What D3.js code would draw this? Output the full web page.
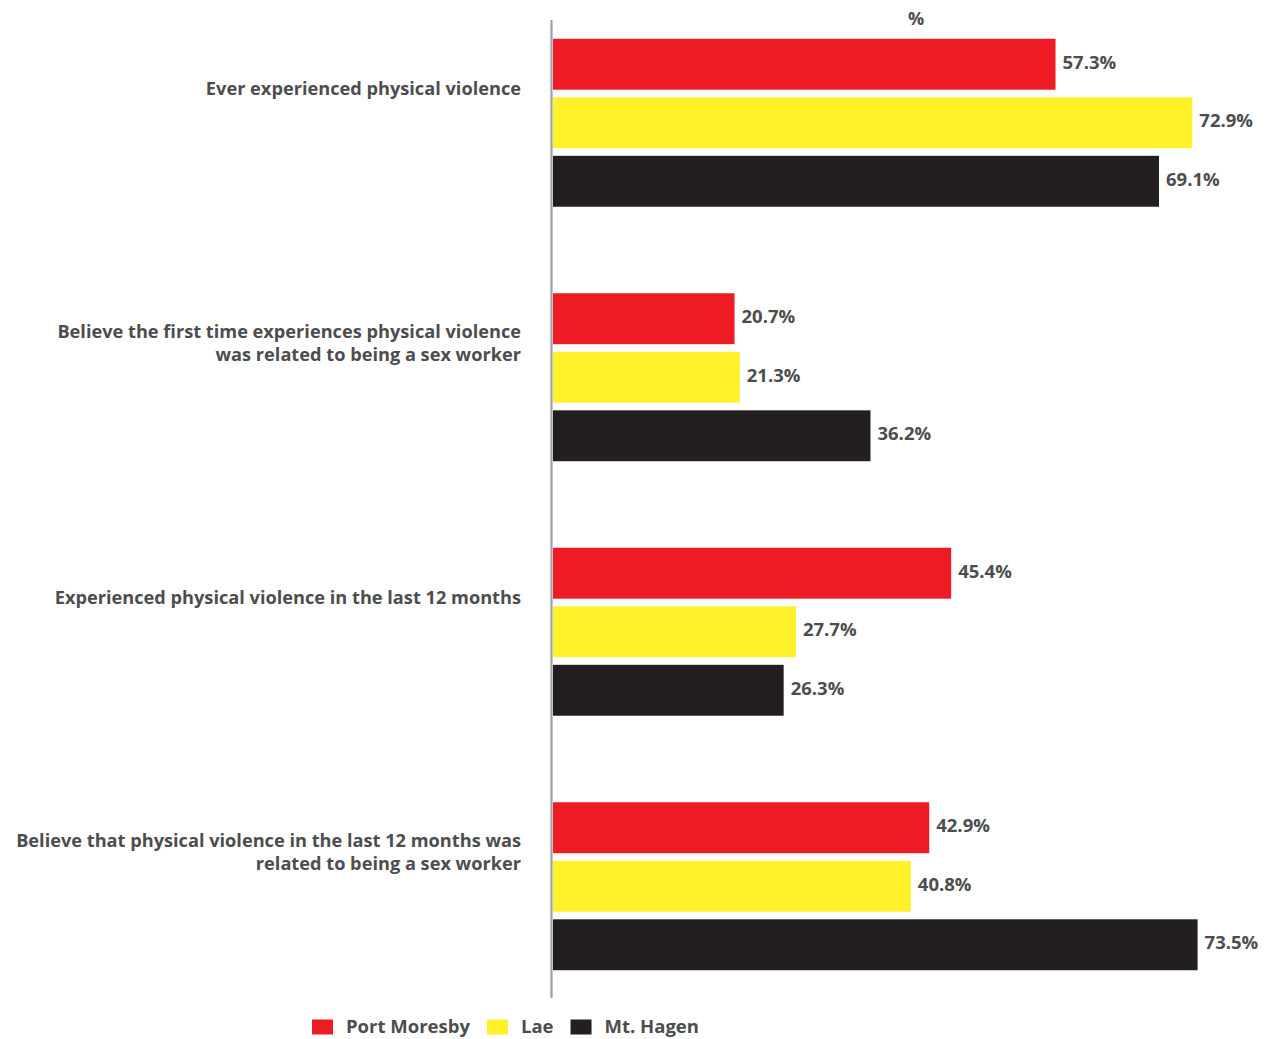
<!DOCTYPE html>
<html>
<head>
<meta charset="utf-8">
<script src="https://cdn.jsdelivr.net/npm/d3@7"></script>
<style>
  html, body { margin: 0; padding: 0; background: #fff; }
  svg { display: block; font-family: "Open Sans", sans-serif; }
</style>
</head>
<body>
<svg id="chart" width="1276" height="1039"></svg>
<script>
const categories = [
  ["Ever experienced physical violence"],
  ["Believe the first time experiences physical violence", "was related to being a sex worker"],
  ["Experienced physical violence in the last 12 months"],
  ["Believe that physical violence in the last 12 months was", "related to being a sex worker"]
];
const seriesNames = ["Port Moresby", "Lae", "Mt. Hagen"];
const portMoresby = [57.3, 20.7, 45.4, 42.9];
const lae = [72.9, 21.3, 27.7, 40.8];
const mtHagen = [69.1, 36.2, 26.3, 73.5];
const colors = ["#ED1C24", "#FFF12A", "#231F20"];
const axisTitle = "%";

const seriesValues = [portMoresby, lae, mtHagen];
const textColor = "#4D4D4F";

const svg = d3.select("#chart");

const x = d3.scaleLinear().domain([0, 100]).range([553, 553 + 877]);
const y = d3.scaleBand()
  .domain(d3.range(categories.length))
  .range([-4.5, 1013.5])
  .paddingInner(0.34)
  .paddingOuter(0.17);
const yInner = d3.scaleBand()
  .domain(d3.range(seriesNames.length))
  .range([0, y.bandwidth()])
  .paddingInner(0.13);

// axis line
svg.append("line")
  .attr("x1", 551.5).attr("x2", 551.5)
  .attr("y1", 20).attr("y2", 998)
  .attr("stroke", "#9D9FA2").attr("stroke-width", 2.2);

// axis title
svg.append("text")
  .attr("x", 916).attr("y", 25)
  .attr("text-anchor", "middle")
  .attr("font-size", 18).attr("font-weight", 700)
  .attr("fill", textColor)
  .text(axisTitle);

const groups = svg.selectAll("g.grp")
  .data(categories)
  .join("g")
  .attr("class", "grp")
  .attr("transform", (d, i) => `translate(0,${y(i)})`);

groups.each(function(cat, ci) {
  const g = d3.select(this);
  seriesValues.forEach((vals, si) => {
    const v = vals[ci];
    g.append("rect")
      .attr("x", x(0))
      .attr("y", yInner(si))
      .attr("width", x(v) - x(0))
      .attr("height", yInner.bandwidth())
      .attr("fill", colors[si]);
    g.append("text")
      .attr("x", x(v) + 7)
      .attr("y", yInner(si) + yInner.bandwidth() / 2 - 2)
      .attr("dy", "0.35em")
      .attr("font-size", 18.5).attr("font-weight", 700)
      .attr("fill", textColor)
      .text(v.toFixed(1) + "%");
  });
  // category label (one text element per line)
  const cy = y.bandwidth() / 2 - 34;
  const lh = 22.5;
  cat.forEach((line, li) => {
    g.append("text")
      .attr("text-anchor", "end")
      .attr("font-size", 18.2).attr("font-weight", 700)
      .attr("fill", textColor)
      .attr("x", 521)
      .attr("y", cy + (li - (cat.length - 1) / 2) * lh)
      .attr("dy", "0.35em")
      .text(line);
  });
});

// legend
const legend = svg.append("g").attr("transform", "translate(312,1027)");
let lx = 0;
seriesNames.forEach((name, i) => {
  legend.append("rect")
    .attr("x", lx).attr("y", -7.5)
    .attr("width", 21).attr("height", 15)
    .attr("fill", colors[i]);
  const txt = legend.append("text")
    .attr("x", lx + 34).attr("y", 0)
    .attr("dy", "0.35em")
    .attr("font-size", 18.5).attr("font-weight", 700)
    .attr("fill", textColor)
    .text(name);
  lx += 34 + txt.node().getComputedTextLength() + 17;
});
</script>
</body>
</html>
